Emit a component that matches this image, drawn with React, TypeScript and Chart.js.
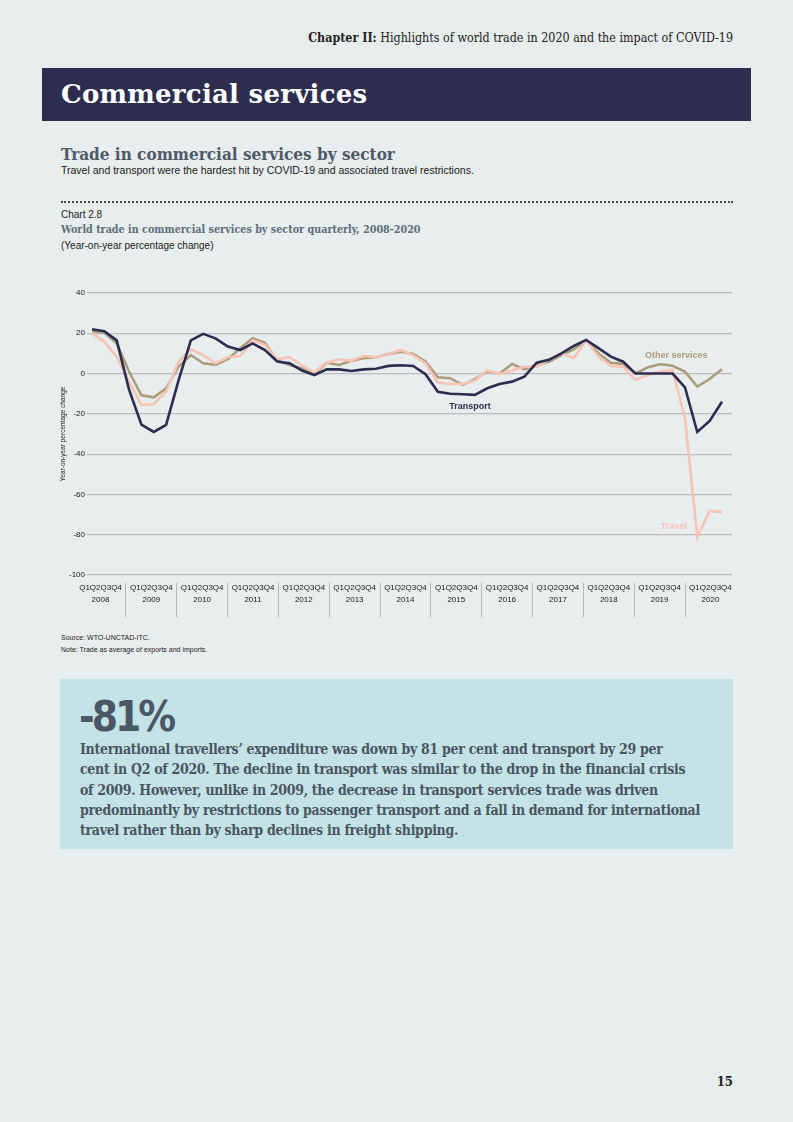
import React, { useEffect, useRef } from "react";
import { Chart, registerables } from "chart.js";

Chart.register(...registerables);

const years = ["2008", "2009", "2010", "2011", "2012", "2013", "2014", "2015", "2016", "2017", "2018", "2019", "2020"];
const quarterLabel = "Q1Q2Q3Q4";
const seriesNames = ["Transport", "Other services", "Travel"];

const transport = [22, 21, 16.5, -8, -25.3, -29, -25.5, -3.5, 16.5, 19.7, 17.5, 13.4, 11.7, 15, 11.7, 6, 5.1, 1.5, -0.7, 2.1, 2.1, 1.3, 2.1, 2.4, 3.8, 4.1, 3.8, -0.3, -9, -10, -10.3, -10.6, -7.3, -5.2, -4, -1.5, 5.4, 6.8, 10, 13.7, 16.7, 12.6, 8.4, 5.9, 0, 0, 0, 0, -6.8, -29, -23.5, -14];
const otherServices = [21, 20.3, 15, 1, -10.8, -11.8, -7.3, 3.4, 9.2, 5.1, 4.3, 7.1, 12.6, 17.5, 15.3, 6.4, 4.3, 2.5, -0.3, 5.4, 4.3, 6.4, 7.6, 8.1, 9.7, 10.9, 9.7, 6, -1.8, -2.3, -5.6, -2.8, 1, 0, 4.8, 2.1, 4.3, 5.9, 9.2, 12, 16.5, 10, 5.4, 4.8, 0.1, 3.1, 4.6, 3.9, 1, -6.5, -2.7, 2.1];
const travel = [20, 15.8, 8.4, -4, -15.6, -15.1, -9, 5.9, 12, 9.2, 5.1, 8.1, 8.7, 16.5, 14.2, 7.1, 8.1, 4, 0.5, 5.4, 7.1, 6.4, 8.7, 8.1, 9.7, 11.7, 9.2, 5.1, -4.5, -5.2, -5.2, -3.5, 1.5, -0.2, 1.5, 3.4, 3.4, 7.1, 10, 7.6, 16.5, 8.7, 3.8, 3.4, -3.2, -0.7, 1, 1.8, -22, -81, -68.2, -68.8];

const COLORS = { transport: "#2b2d50", other: "#ab9d7c", travel: "#f6c3b5" };
const LABEL_FONT = "'Liberation Sans', Arial, sans-serif";

const seriesLabelPlugin = {
  id: "seriesLabels",
  afterDatasetsDraw(chart: any) {
    const { ctx, scales } = chart;
    const x = scales.x;
    const y = scales.y;
    const items = [
      { text: seriesNames[1], i: 47.3, v: 9.2, color: COLORS.other },
      { text: seriesNames[0], i: 30.6, v: -16.4, color: COLORS.transport },
      { text: seriesNames[2], i: 47.1, v: -76, color: COLORS.travel },
    ];
    ctx.save();
    ctx.font = `bold 9px ${LABEL_FONT}`;
    ctx.textAlign = "center";
    ctx.textBaseline = "middle";
    for (const it of items) {
      ctx.fillStyle = it.color;
      ctx.fillText(it.text, x.getPixelForValue(it.i), y.getPixelForValue(it.v));
    }
    ctx.restore();
  },
};

function TradeChart() {
  const ref = useRef<HTMLCanvasElement | null>(null);
  useEffect(() => {
    if (!ref.current) return;
    const labels = transport.map((_, i) => i);
    const chart = new Chart(ref.current, {
      type: "line",
      data: {
        labels,
        datasets: [
          {
            label: seriesNames[0],
            data: transport.map((v, i) => ({ x: i, y: v })),
            borderColor: COLORS.transport,
            borderWidth: 2.6,
            pointRadius: 0,
            tension: 0,
            order: 0,
            xAxisID: "x",
            yAxisID: "y",
          },
          {
            label: seriesNames[2],
            data: travel.map((v, i) => ({ x: i, y: v })),
            borderColor: COLORS.travel,
            borderWidth: 2.6,
            pointRadius: 0,
            tension: 0,
            order: 1,
            xAxisID: "x",
            yAxisID: "y",
          },
          {
            label: seriesNames[1],
            data: otherServices.map((v, i) => ({ x: i, y: v })),
            borderColor: COLORS.other,
            borderWidth: 2.6,
            pointRadius: 0,
            tension: 0,
            order: 2,
            xAxisID: "x",
            yAxisID: "y",
          },
        ],
      },
      options: {
        responsive: false,
        animation: false,
        layout: { padding: { left: 16, right: 18, top: 13, bottom: 0 } },
        plugins: { legend: { display: false }, tooltip: { enabled: false } },
        scales: {
          x: {
            type: "linear",
            display: false,
            min: -0.405,
            max: 51.81,
          },
          years: {
            type: "linear",
            position: "bottom",
            min: -0.2656,
            max: 12.424,
            afterBuildTicks: (axis: any) => {
              const t: any[] = [];
              for (let k = 0; k < years.length; k++) {
                t.push({ value: k });
                if (k < years.length - 1) t.push({ value: k + 0.5 });
              }
              axis.ticks = t;
            },
            afterFit: (axis: any) => {
              axis.height = 45;
            },
            border: { display: false },
            grid: {
              drawOnChartArea: false,
              drawTicks: true,
              tickLength: 42,
              tickWidth: 1,
              tickBorderDash: [0, 8, 34, 0],
              tickColor: (ctx: any) =>
                ctx.tick && Number.isInteger(ctx.tick.value) ? "rgba(0,0,0,0)" : "#b8b8b8",
            },
            ticks: {
              autoSkip: false,
              maxRotation: 0,
              minRotation: 0,
              padding: -35,
              color: "#1a1a1a",
              font: { family: LABEL_FONT, size: 8, lineHeight: 1.5 },
              callback: (value: any) =>
                Number.isInteger(value) ? [quarterLabel, years[value]] : "",
            },
          },
          y: {
            type: "linear",
            min: -100,
            max: 40,
            afterFit: (axis: any) => {
              axis.width = 31;
            },
            border: { display: false },
            grid: { color: "#bdbdbd", lineWidth: 1.2, drawTicks: false },
            ticks: {
              stepSize: 20,
              padding: 2,
              color: "#1a1a1a",
              font: { family: LABEL_FONT, size: 8 },
            },
            title: {
              display: true,
              text: "Year-on-year percentage change",
              color: "#1a1a1a",
              font: { family: LABEL_FONT, size: 6.5, lineHeight: 1.2 },
              padding: { top: 3.6, bottom: 0 },
            },
          },
        },
      },
      plugins: [seriesLabelPlugin],
    } as any);
    return () => chart.destroy();
  }, []);
  return <canvas ref={ref} width={710} height={340} style={{ width: 710, height: 340 }} />;
}

const SERIF = "'DejaVu Serif Condensed', 'DejaVu Serif', serif";
const SANS = "'Liberation Sans', Arial, sans-serif";

const paragraphLines = [
  "International travellers’ expenditure was down by 81 per cent and transport by 29 per",
  "cent in Q2 of 2020. The decline in transport was similar to the drop in the financial crisis",
  "of 2009. However, unlike in 2009, the decrease in transport services trade was driven",
  "predominantly by restrictions to passenger transport and a fall in demand for international",
  "travel rather than by sharp declines in freight shipping.",
];

export default function App() {
  const abs = (extra: React.CSSProperties): React.CSSProperties => ({
    position: "absolute",
    whiteSpace: "nowrap",
    margin: 0,
    ...extra,
  });
  return (
    <div
      style={{
        position: "absolute",
        left: 0,
        top: 0,
        width: 793,
        height: 1122,
        background: "#e8eded",
        overflow: "hidden",
      }}
    >
      <div
        style={abs({
          right: 60,
          top: 31,
          fontFamily: SERIF,
          fontSize: 12.4,
          lineHeight: "14px",
          color: "#222",
        })}
      >
        <b>Chapter II:</b> Highlights of world trade in 2020 and the impact of COVID-19
      </div>

      <div style={abs({ left: 42, top: 68, width: 709, height: 53, background: "#2c2d4f" })} />
      <div
        style={abs({
          left: 61,
          top: 78,
          fontFamily: "'DejaVu Serif', serif",
          fontWeight: 700,
          fontSize: 26,
          lineHeight: "32px",
          letterSpacing: 0.25,
          color: "#ffffff",
        })}
      >
        Commercial services
      </div>

      <div
        style={abs({
          left: 61,
          top: 144,
          fontFamily: SERIF,
          fontWeight: 700,
          fontSize: 17,
          lineHeight: "20px",
          color: "#4e5866",
        })}
      >
        Trade in commercial services by sector
      </div>
      <div
        style={abs({
          left: 61,
          top: 163,
          fontFamily: SANS,
          fontSize: 10.5,
          lineHeight: "14px",
          color: "#1a1a1a",
        })}
      >
        Travel and transport were the hardest hit by COVID-19 and associated travel restrictions.
      </div>

      <div style={abs({ left: 61, top: 201, width: 672, borderTop: "2px dotted #4a4a4a" })} />

      <div style={abs({ left: 61, top: 209, fontFamily: SANS, fontSize: 10, lineHeight: "12px", color: "#222" })}>
        Chart 2.8
      </div>
      <div
        style={abs({
          left: 61,
          top: 224,
          fontFamily: SERIF,
          fontWeight: 700,
          fontSize: 10.7,
          lineHeight: "12px",
          color: "#5d6d7b",
        })}
      >
        World trade in commercial services by sector quarterly, 2008-2020
      </div>
      <div style={abs({ left: 61, top: 240, fontFamily: SANS, fontSize: 10, lineHeight: "12px", color: "#222" })}>
        (Year-on-year percentage change)
      </div>

      <div style={abs({ left: 40, top: 280, width: 710, height: 340 })}>
        <TradeChart />
      </div>

      <div style={abs({ left: 61, top: 634, fontFamily: SANS, fontSize: 7, lineHeight: "8px", color: "#222" })}>
        Source: WTO-UNCTAD-ITC.
      </div>
      <div style={abs({ left: 61, top: 646, fontFamily: SANS, fontSize: 7, lineHeight: "8px", color: "#222" })}>
        Note: Trade as average of exports and imports.
      </div>

      <div style={abs({ left: 60, top: 679, width: 673, height: 170, background: "#c4e3e6" })} />
      <div
        style={abs({
          left: 79,
          top: 692,
          fontFamily: "'DejaVu Sans Condensed', 'DejaVu Sans', sans-serif",
          fontWeight: 700,
          fontSize: 42,
          lineHeight: "50px",
          letterSpacing: -3,
          color: "#4b5766",
        })}
      >
        -81%
      </div>
      <div style={abs({ left: 80, top: 739 })}>
        {paragraphLines.map((line, i) => (
          <div
            key={i}
            style={{
              fontFamily: SERIF,
              fontWeight: 700,
              fontSize: 14,
              lineHeight: "20.25px",
              letterSpacing: -0.3,
              color: "#4a5463",
              whiteSpace: "nowrap",
            }}
          >
            {line}
          </div>
        ))}
      </div>

      <div
        style={abs({
          right: 60,
          top: 1074,
          fontFamily: SERIF,
          fontWeight: 700,
          fontSize: 13,
          lineHeight: "16px",
          color: "#222",
        })}
      >
        15
      </div>
    </div>
  );
}
